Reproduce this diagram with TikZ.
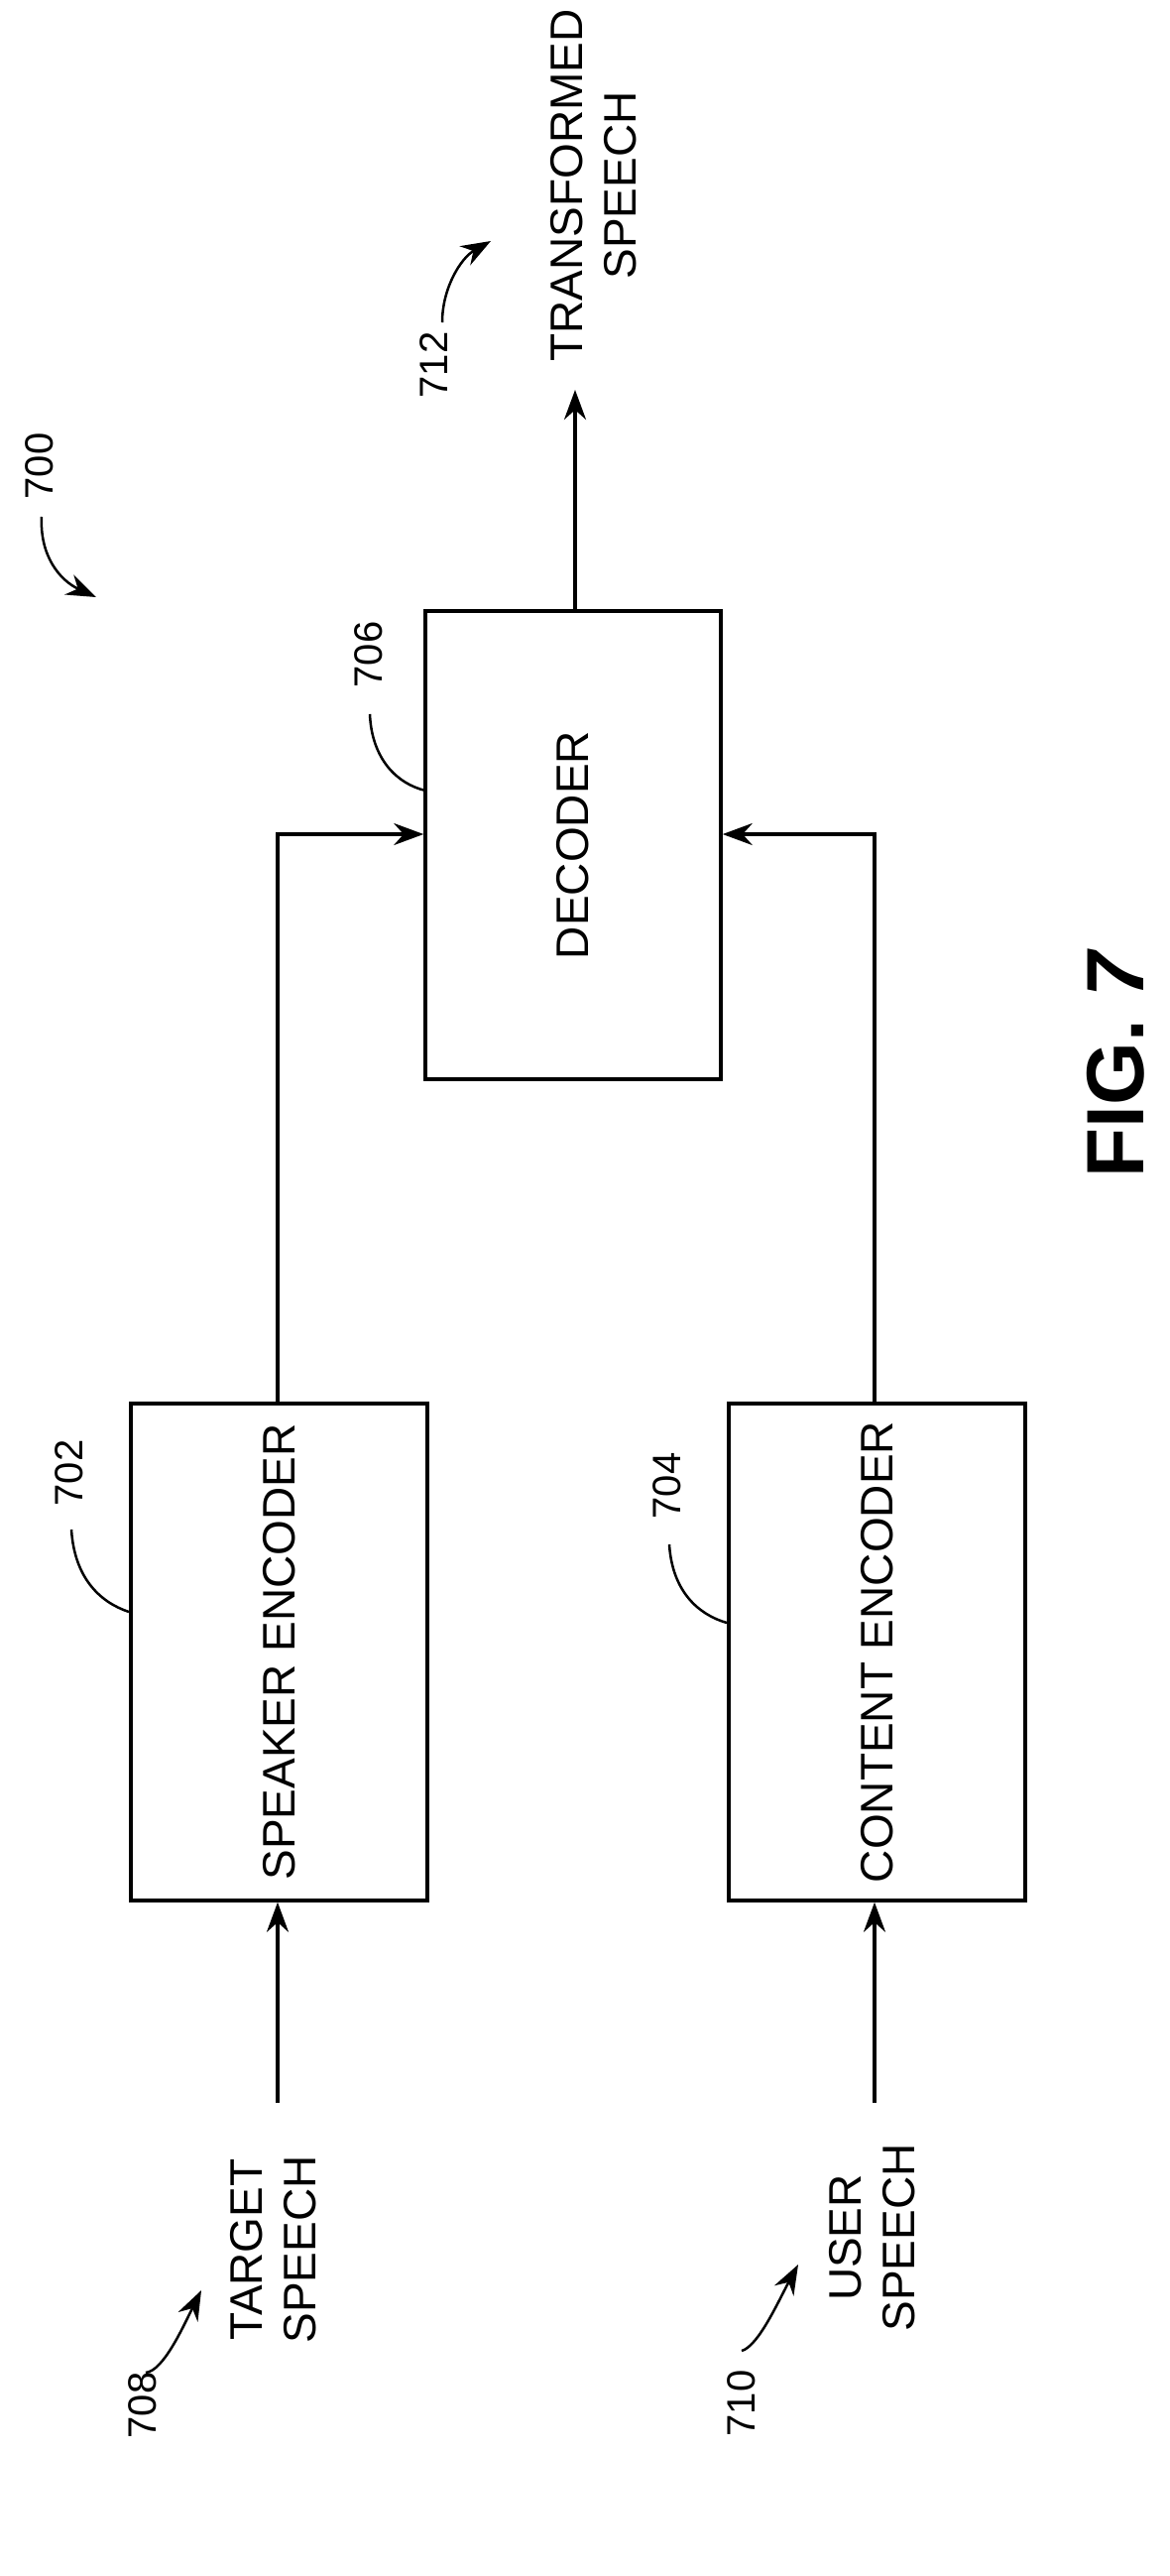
\documentclass[tikz,border=0pt]{standalone}
\usepackage{fontspec}
\setmainfont{Liberation Sans}
\usetikzlibrary{arrows.meta}
\begin{document}
\begin{tikzpicture}[x=1pt,y=-1pt,
  box/.style={draw,line width=3.5pt,inner sep=0pt,font=\fontsize{46}{52}\selectfont},
  lbl/.style={rotate=90,font=\fontsize{46}{54}\selectfont,align=center},
  num/.style={rotate=90,font=\fontsize{40}{46}\selectfont},
  con/.style={line width=3.5pt,-{Stealth[length=30pt,width=22pt]}},
  lead/.style={line width=2.5pt},
  rarr/.style={line width=2.5pt,-{Stealth[length=30pt,width=22pt]}}]
\useasboundingbox (0,0) rectangle (1179,2597);
% boxes
\node[box,minimum width=298pt,minimum height=472pt] (dec) at (578,852) {};
\node[lbl] at (dec.center) {DECODER};
\node[box,minimum width=299pt,minimum height=501pt] (spk) at (281.5,1665.5) {};
\node[lbl] at (spk.center) {SPEAKER ENCODER};
\node[box,minimum width=299pt,minimum height=501pt] (cnt) at (884.5,1665.5) {};
\node[lbl] at (cnt.center) {CONTENT ENCODER};
% io texts
\node[lbl] (out) at (599,187) {TRANSFORMED\\SPEECH};
\node[lbl] (tgt) at (276,2268) {TARGET\\SPEECH};
\node[lbl] (usr) at (880,2256) {USER\\SPEECH};
\coordinate (outtip) at (580,393);
\coordinate (tin) at (280,2120);
\coordinate (uin) at (882,2120);
\coordinate (sbend) at (280,841);
\coordinate (cbend) at (882,841);
% connectors
\draw[con] (dec.north -| outtip) -- (outtip);
\draw[con] (tin) -- (tin |- spk.south);
\draw[con] (uin) -- (uin |- cnt.south);
\draw[con] (spk.north -| sbend) -- (sbend) -- (sbend -| dec.west);
\draw[con] (cnt.north -| cbend) -- (cbend) -- (cbend -| dec.east);
% reference numerals
\node[num] (n700) at (40,470) {700};
\node[num] (n706) at (372,660) {706};
\node[num] (n712) at (438,368) {712};
\node[num] (n702) at (70,1485) {702};
\node[num] (n704) at (673,1498) {704};
\node[num] (n708) at (144,2425) {708};
\node[num] (n710) at (748,2423) {710};
\coordinate (l706) at (429,797);
\coordinate (l702) at (130,1625);
\coordinate (l704) at (733,1636);
\coordinate (a700) at (97,602);
\coordinate (a712) at (495,243);
\coordinate (a708) at (203,2309);
\coordinate (a710) at (805,2283);
\draw[lead] (373,720) .. controls (375,765) and (400,790) .. (l706);
\draw[lead] (72,1542) .. controls (75,1590) and (100,1615) .. (l702);
\draw[lead] (675,1557) .. controls (678,1605) and (705,1628) .. (l704);
\draw[rarr] (42,521) .. controls (40,560) and (60,585) .. (a700);
\draw[rarr] (446,325) .. controls (446,290) and (465,260) .. (a712);
\draw[rarr] (147,2392) .. controls (165,2390) and (185,2345) .. (a708);
\draw[rarr] (748,2370) .. controls (765,2365) and (785,2320) .. (a710);
% figure label
\node[rotate=90,font=\fontsize{82}{88}\selectfont\bfseries,inner sep=0pt] (fig) at (1125,1072) {FIG. \textit{7}};
\end{tikzpicture}
\end{document}
